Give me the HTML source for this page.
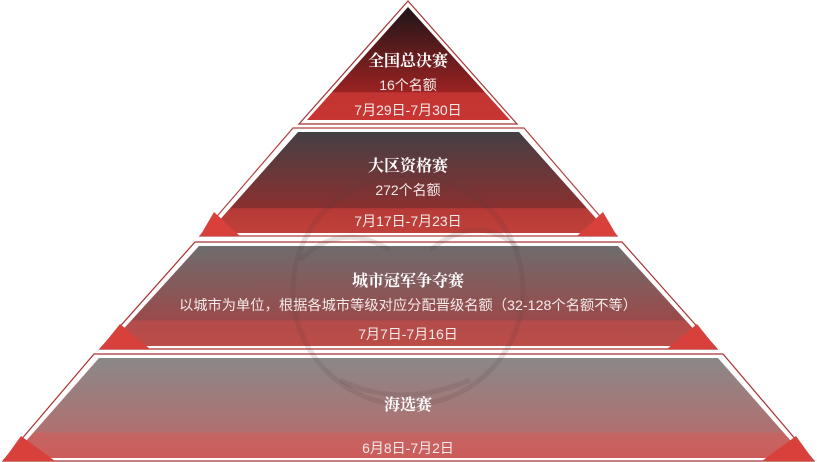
<!DOCTYPE html>
<html><head><meta charset="utf-8"><style>
html,body{margin:0;padding:0;background:#fff;}
svg{display:block;}
.t{font-family:"Liberation Serif","Noto Serif CJK SC",serif;fill:#fff;font-size:16px;text-anchor:middle;font-weight:bold;}
.s{font-family:"Liberation Sans","Noto Sans CJK SC",sans-serif;fill:#f4eaea;font-size:14px;text-anchor:middle;}
</style></head><body>
<svg width="817" height="462" viewBox="0 0 817 462" xmlns="http://www.w3.org/2000/svg">
<defs>
<linearGradient id="g1" x1="0" y1="0" x2="0" y2="1">
<stop offset="0" stop-color="#1e1518"/><stop offset="0.75" stop-color="#9a2222"/><stop offset="0.76" stop-color="#c23532"/><stop offset="1" stop-color="#c83532"/></linearGradient>
<linearGradient id="g2" x1="0" y1="0" x2="0" y2="1">
<stop offset="0" stop-color="#444044"/><stop offset="0.75" stop-color="#8a3030"/><stop offset="0.76" stop-color="#b63a36"/><stop offset="1" stop-color="#c0403a"/></linearGradient>
<linearGradient id="g3" x1="0" y1="0" x2="0" y2="1">
<stop offset="0" stop-color="#6e6c6e"/><stop offset="0.74" stop-color="#9a4a4a"/><stop offset="0.75" stop-color="#b24c4a"/><stop offset="1" stop-color="#bc4c48"/></linearGradient>
<linearGradient id="g4" x1="0" y1="0" x2="0" y2="1">
<stop offset="0" stop-color="#8a8888"/><stop offset="0.74" stop-color="#b07070"/><stop offset="0.75" stop-color="#c46664"/><stop offset="1" stop-color="#cc5c5a"/></linearGradient>
</defs>
<polygon points="408,1 299,124 517,124" fill="#fff" stroke="#a83030" stroke-width="1.2"/>
<polygon points="408,7 307,120 510,120" fill="url(#g1)"/>
<polygon points="293,128 524,128 617,236 200,236" fill="#fff" stroke="#b04040" stroke-width="1.2"/>
<polygon points="298,132 519,132 609,233 208,233" fill="url(#g2)"/>
<polygon points="200,236 214,212 240,236" fill="#d8403c"/><polygon points="617,236 603,212 577,236" fill="#d8403c"/>
<polygon points="195,242 622,242 717,349 100,349" fill="#fff" stroke="#a83030" stroke-width="1.2"/>
<polygon points="199,246 618,246 709,346 108,346" fill="url(#g3)"/>
<polygon points="100,349 120,324 150,349" fill="#d8403c"/><polygon points="717,349 697,324 667,349" fill="#d8403c"/>
<polygon points="94,354 723,354 814,461 3,461" fill="#fff" stroke="#a83030" stroke-width="1.2"/>
<polygon points="99,358 718,358 806,458 11,458" fill="url(#g4)"/>
<polygon points="3,461 21,436 55,461" fill="#d8403c"/><polygon points="814,461 796,436 762,461" fill="#d8403c"/>
<g fill="none" stroke="#5a3a3e" stroke-opacity="0.15" stroke-width="5">
<circle cx="408" cy="290" r="115"/>
<path d="M300 260 q40 -40 90 -10 M520 250 q-40 -40 -90 0 M340 380 q60 30 130 0"/>
</g>
<text class="t" x="408" y="66">全国总决赛</text>
<text class="s" x="408" y="90">16个名额</text>
<text class="s" x="408" y="115">7月29日-7月30日</text>
<text class="t" x="408" y="171">大区资格赛</text>
<text class="s" x="408" y="195">272个名额</text>
<text class="s" x="408" y="226">7月17日-7月23日</text>
<text class="t" x="408" y="286">城市冠军争夺赛</text>
<text class="s" x="408" y="310" textLength="458" lengthAdjust="spacingAndGlyphs">以城市为单位，根据各城市等级对应分配晋级名额（32-128个名额不等）</text>
<text class="s" x="408" y="339">7月7日-7月16日</text>
<text class="t" x="408" y="410">海选赛</text>
<text class="s" x="408" y="453">6月8日-7月2日</text>
</svg>
</body></html>
